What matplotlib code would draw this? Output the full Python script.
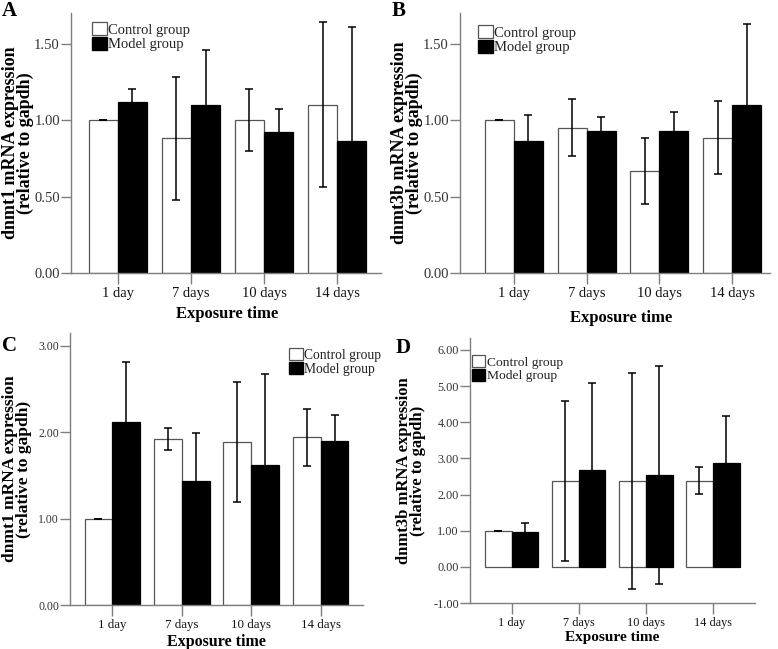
import matplotlib
matplotlib.use('Agg')
import matplotlib.pyplot as plt
from matplotlib.patches import Patch
from matplotlib.ticker import FormatStrFormatter

days = ['1 day', '7 days', '10 days', '14 days']

a_control = [1.00, 0.88, 1.00, 1.10]
a_control_err = [0.0, 0.40, 0.20, 0.54]
a_model = [1.12, 1.10, 0.92, 0.86]
a_model_err = [0.08, 0.36, 0.15, 0.75]

b_control = [1.00, 0.95, 0.665, 0.885]
b_control_err = [0.0, 0.185, 0.215, 0.24]
b_model = [0.86, 0.93, 0.93, 1.10]
b_model_err = [0.17, 0.09, 0.12, 0.53]

c_control = [1.00, 1.92, 1.89, 1.94]
c_control_err = [0.0, 0.125, 0.695, 0.325]
c_model = [2.12, 1.44, 1.62, 1.90]
c_model_err = [0.69, 0.55, 1.05, 0.30]

d_control = [1.00, 2.37, 2.38, 2.38]
d_control_err = [0.0, 2.22, 2.99, 0.375]
d_model = [0.96, 2.67, 2.54, 2.88]
d_model_err = [0.25, 2.41, 3.01, 1.30]

W, H = 778, 649
serif = 'Liberation Serif'
axis_grey = '#7f7f7f'
edge_grey = '#555555'

fig = plt.figure(figsize=(W / 100, H / 100), dpi=100)


def px_axes(l, r, t, b):
    # pixel box -> figure fraction
    return fig.add_axes([l / W, 1 - b / H, (r - l) / W, (b - t) / H])


def draw_panel(box, letter, letter_xy, ylabel, control, control_err, model, model_err,
               ylim, yticks, xlim, legend_xy, fs):
    ax = px_axes(*box)
    x = range(len(days))
    w = 0.40
    xc = [i - w / 2 for i in x]
    xm = [i + w / 2 for i in x]
    ax.bar(xc, control, w, color='white', edgecolor=edge_grey, linewidth=0.9, zorder=2)
    ax.bar(xm, model, w, color='black', edgecolor='black', linewidth=0.9, zorder=2)
    ax.errorbar(xc, control, yerr=control_err, fmt='none', ecolor='black',
                elinewidth=1.1, capsize=2.8, capthick=1.1, zorder=3)
    ax.errorbar(xm, model, yerr=model_err, fmt='none', ecolor='black',
                elinewidth=1.1, capsize=2.8, capthick=1.1, zorder=3)

    ax.set_xlim(*xlim)
    ax.set_ylim(*ylim)
    ax.set_yticks(yticks)
    ax.yaxis.set_major_formatter(FormatStrFormatter('%.2f'))
    ax.set_xticks(list(x))
    ax.set_xticklabels(days)

    for side in ['top', 'right']:
        ax.spines[side].set_visible(False)
    for side in ['left', 'bottom']:
        ax.spines[side].set_color(axis_grey)
        ax.spines[side].set_linewidth(1.0)

    ax.tick_params(axis='y', length=7, width=1.0, color=axis_grey, pad=1,
                   labelsize=fs['ytick'], labelcolor='#333333')
    ax.tick_params(axis='x', length=8, width=1.0, color=axis_grey, pad=2,
                   labelsize=fs['xtick'], labelcolor='#111111')
    for lab in ax.get_xticklabels() + ax.get_yticklabels():
        lab.set_fontfamily(serif)

    ax.set_xlabel('Exposure time', fontsize=fs['xlabel'], fontweight='bold',
                  family=serif, va='center')
    ax.xaxis.set_label_coords(fs['xlabel_xy'][0] / W, 1 - fs['xlabel_xy'][1] / H,
                              transform=fig.transFigure)
    ax.set_ylabel(ylabel, fontsize=fs['ylabel'], fontweight='bold', family=serif,
                  va='center', linespacing=0.82)
    ax.yaxis.set_label_coords(fs['ylabel_x'] / W, 1 - (box[2] + box[3]) / 2 / H,
                              transform=fig.transFigure)

    fig.text(letter_xy[0] / W, 1 - letter_xy[1] / H, letter, fontsize=15,
             fontweight='bold', family=serif, ha='left', va='top')

    handles = [Patch(facecolor='white', edgecolor=edge_grey, linewidth=0.9),
               Patch(facecolor='black', edgecolor='black')]
    leg = ax.legend(handles, ['Control group', 'Model group'], loc='upper left',
                    bbox_to_anchor=(legend_xy[0] / W, 1 - legend_xy[1] / H),
                    bbox_transform=fig.transFigure, frameon=False, borderpad=0,
                    borderaxespad=0, handlelength=1.0, handleheight=1.0,
                    handletextpad=0.12, labelspacing=0.0,
                    prop={'family': serif, 'size': fs['legend']})
    for t in leg.get_texts():
        t.set_color('#222222')
    return ax


fs_top = {'ytick': 10.5, 'xtick': 10.5, 'legend': 10.5, 'xlabel': 12, 'ylabel': 13}
fs_a = dict(fs_top, xlabel_xy=(227, 314), ylabel_x=18)
fs_b = dict(fs_top, xlabel_xy=(621, 318), ylabel_x=407)
fs_c = {'ytick': 8.5, 'xtick': 9.3, 'legend': 9.8, 'xlabel': 11.5, 'ylabel': 12.5,
        'xlabel_xy': (216, 642), 'ylabel_x': 17}
fs_d = {'ytick': 8.8, 'xtick': 8.8, 'legend': 9.7, 'xlabel': 11, 'ylabel': 12,
        'xlabel_xy': (612, 637), 'ylabel_x': 411}

draw_panel((71, 381, 13, 273), 'A', (2, 1), 'dnmt1 mRNA expression\n(relative to gapdh)',
           a_control, a_control_err, a_model, a_model_err,
           (0, 1.70), [0, 0.5, 1.0, 1.5], (-0.64, 3.60), (92, 22), fs_a)

draw_panel((460, 770, 13, 273), 'B', (392, 1), 'dnmt3b mRNA expression\n(relative to gapdh)',
           b_control, b_control_err, b_model, b_model_err,
           (0, 1.70), [0, 0.5, 1.0, 1.5], (-0.74, 3.52), (478, 25), fs_b)

draw_panel((70, 363, 333, 605), 'C', (2, 336), 'dnmt1 mRNA expression\n(relative to gapdh)',
           c_control, c_control_err, c_model, c_model_err,
           (0, 3.15), [0, 1, 2, 3], (-0.61, 3.61), (289, 348), fs_c)

draw_panel((470, 755, 338, 603), 'D', (396, 338), 'dnmt3b mRNA expression\n(relative to gapdh)',
           d_control, d_control_err, d_model, d_model_err,
           (-1, 6.33), [-1, 0, 1, 2, 3, 4, 5, 6], (-0.62, 3.63), (472, 355), fs_d)

fig.savefig('out.png', dpi=100, facecolor='white')
